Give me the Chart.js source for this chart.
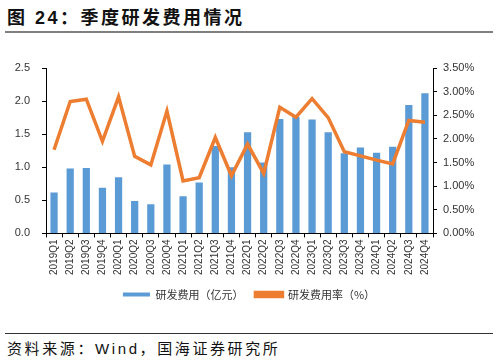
<!DOCTYPE html>
<html>
<head>
<meta charset="utf-8">
<script src="https://cdn.jsdelivr.net/npm/chart.js@4"></script>
<style>
  body { margin: 0; width: 498px; height: 362px; background: #fff; position: relative; overflow: hidden; font-family: "Liberation Sans", "Noto Sans CJK SC", sans-serif; }
  #title { position: absolute; left: 7px; top: 3px; font-size: 18px; letter-spacing: 2.5px; font-weight: bold; color: #111; white-space: nowrap; }
  #topLine { position: absolute; left: 5px; top: 31px; width: 488px; height: 2px; background: #7f7f7f; }
  #chartBox { position: absolute; left: 0; top: 40px; width: 498px; height: 270px; }
  #bottomLine { position: absolute; left: 5px; top: 333px; width: 488px; height: 1px; background: #333; }
  #source { position: absolute; left: 7px; top: 337px; font-size: 15px; letter-spacing: 2.6px; color: #111; white-space: nowrap; }
</style>
</head>
<body>
<div id="title">图 24：季度研发费用情况</div>
<div id="topLine"></div>
<div id="chartBox"><canvas id="rdChart"></canvas></div>
<div id="bottomLine"></div>
<div id="source">资料来源：Wind，国海证券研究所</div>
<script>
// 季度
const quarters = [
  "2019Q1", "2019Q2", "2019Q3", "2019Q4",
  "2020Q1", "2020Q2", "2020Q3", "2020Q4",
  "2021Q1", "2021Q2", "2021Q3", "2021Q4",
  "2022Q1", "2022Q2", "2022Q3", "2022Q4",
  "2023Q1", "2023Q2", "2023Q3", "2023Q4",
  "2024Q1", "2024Q2", "2024Q3", "2024Q4"
];
// 研发费用（亿元）
const rdExpense = [
  0.62, 0.98, 0.99, 0.69,
  0.85, 0.49, 0.44, 1.04,
  0.56, 0.77, 1.32, 1.00,
  1.53, 1.07, 1.73, 1.76,
  1.72, 1.53, 1.21, 1.30,
  1.22, 1.31, 1.94, 2.12
];
// 研发费用率（%）
const rdRate = [
  1.77, 2.79, 2.84, 1.95,
  2.89, 1.63, 1.45, 2.59,
  1.11, 1.18, 2.03, 1.22,
  1.89, 1.27, 2.67, 2.46,
  2.85, 2.45, 1.73, 1.64,
  1.55, 1.47, 2.39, 2.35
];
const leftTicks = [0, 0.5, 1.0, 1.5, 2.0, 2.5];
const rightTicks = [0, 0.5, 1.0, 1.5, 2.0, 2.5, 3.0, 3.5];

const blue = "#5b9bd5";
const orange = "#ed7d31";
const axisFont = { family: "'Liberation Sans', 'Noto Sans CJK SC', sans-serif", size: 11 };

const ctx = document.getElementById("rdChart").getContext("2d");
const chart = new Chart(ctx, {
  data: {
    labels: quarters,
    datasets: [
      {
        type: "line",
        label: "研发费用率（%）",
        data: rdRate,
        yAxisID: "yRight",
        borderColor: orange,
        backgroundColor: orange,
        borderWidth: 3.5,
        pointRadius: 0,
        tension: 0,
        order: 0
      },
      {
        type: "bar",
        label: "研发费用（亿元）",
        data: rdExpense,
        yAxisID: "yLeft",
        backgroundColor: blue,
        borderWidth: 0,
        barPercentage: 0.45,
        categoryPercentage: 1,
        order: 1
      }
    ]
  },
  options: {
    responsive: true,
    maintainAspectRatio: false,
    animation: false,
    layout: { padding: { top: 28, left: 0, right: 0, bottom: 0 } },
    plugins: {
      tooltip: { enabled: false },
      legend: {
        position: "bottom",
        reverse: true,
        labels: {
          boxWidth: 27,
          boxHeight: 4,
          padding: 12,
          color: "#333",
          font: { family: "'Noto Sans CJK SC', sans-serif", size: 11 }
        }
      }
    },
    scales: {
      x: {
        grid: { display: true, drawOnChartArea: false, color: "#000", tickLength: 4, offset: true },
        border: { color: "#000", width: 1 },
        ticks: { color: "#333", font: { ...axisFont, size: 10 }, minRotation: 90, maxRotation: 90, autoSkip: false, padding: 2 }
      },
      yLeft: {
        position: "left",
        min: 0,
        max: 2.5,
        afterBuildTicks: (scale) => { scale.ticks = leftTicks.map(v => ({ value: v })); },
        afterFit: (scale) => { scale.width = 46; },
        grid: { drawOnChartArea: false, color: "#000", tickLength: 4 },
        border: { color: "#000", width: 1 },
        ticks: { color: "#333", font: axisFont, padding: 12, callback: (v) => v.toFixed(1) }
      },
      yRight: {
        position: "right",
        min: 0,
        max: 3.5,
        afterBuildTicks: (scale) => { scale.ticks = rightTicks.map(v => ({ value: v })); },
        afterFit: (scale) => { scale.width = 65; },
        grid: { drawOnChartArea: false, color: "#000", tickLength: 4 },
        border: { color: "#000", width: 1 },
        ticks: { color: "#333", font: axisFont, padding: 6, callback: (v) => v.toFixed(2) + "%" }
      }
    }
  }
});
</script>
</body>
</html>
